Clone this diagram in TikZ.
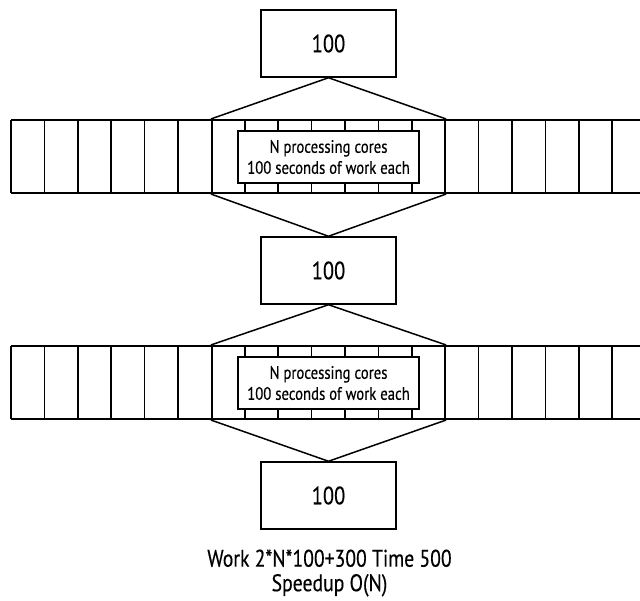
\documentclass[tikz,border=0pt]{standalone}
\usepackage{fontspec}
\setmainfont[FakeStretch=0.82,FakeBold=0.4]{PT Sans}

\begin{document}
\begin{tikzpicture}[x=1pt,y=-1pt,line width=1.5pt,
		sbox/.style={draw,minimum width=135pt,minimum height=67pt,inner sep=0pt,font=\fontsize{25}{30}\selectfont},
		lbl/.style={draw,fill=white,minimum width=181pt,minimum height=52pt,inner sep=0pt,align=center,font=\fontsize{18}{21}\selectfont},
		core/.style={draw,line width=2.1pt,minimum width=233pt,minimum height=73pt,inner sep=0pt}]
		\useasboundingbox (0,0) rectangle (640,601);
		\clip (0,0) rectangle (640,601);

		% Serial parts
		\node[sbox] (top) at (328.5,43.5) {100};
		\node[sbox] (mid) at (328.5,270.5) {100};
		\node[sbox] (bot) at (328.5,495.5) {100};

		% First parallel section
		\foreach \i in {0,...,18}
			\draw (11+\i*33.4,120) -- ++(0,73);
		\draw (11,120) -- (660,120);
		\draw (11,193) -- (660,193);
		\node[core] (core1) at (328.5,156.5) {};
		\node[lbl] (lbl1) at (328.5,157) {N processing cores\\100 seconds of work each};

		% Second parallel section
		\begin{scope}[shift={(0,226)}]
			\foreach \i in {0,...,18}
				\draw (11+\i*33.4,120) -- ++(0,73);
			\draw (11,120) -- (660,120);
			\draw (11,193) -- (660,193);
			\node[core] (core2) at (328.5,156.5) {};
			\node[lbl] (lbl2) at (328.5,157) {N processing cores\\100 seconds of work each};
		\end{scope}

		% Fork and join
		\draw (top.south) -- (core1.north west);
		\draw (top.south) -- (core1.north east);
		\draw (core1.south west) -- (mid.north);
		\draw (core1.south east) -- (mid.north);
		\draw (mid.south) -- (core2.north west);
		\draw (mid.south) -- (core2.north east);
		\draw (core2.south west) -- (bot.north);
		\draw (core2.south east) -- (bot.north);

		\node[align=center,font=\fontsize{24}{24.5}\selectfont] (sum) at (329.5,573) {Work 2*N*100+300 Time 500\\Speedup O(N)};
	\end{tikzpicture}
\end{document}
